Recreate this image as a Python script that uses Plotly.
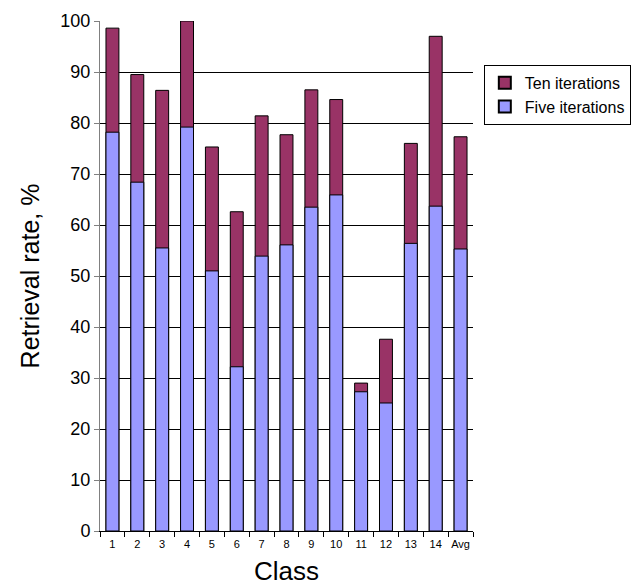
import plotly.graph_objects as go

classes = ["1", "2", "3", "4", "5", "6", "7", "8", "9", "10", "11", "12", "13", "14", "Avg"]
ten_iterations = [98.6, 89.5, 86.4, 100.0, 75.3, 62.6, 81.4, 77.7, 86.5, 84.6, 29.0, 37.6, 76.0, 97.0, 77.3]
five_iterations = [78.2, 68.4, 55.5, 79.2, 51.0, 32.2, 53.9, 56.1, 63.5, 65.9, 27.3, 25.1, 56.4, 63.7, 55.3]

FONT = "Liberation Sans, Arial, sans-serif"

fig = go.Figure()
fig.add_trace(go.Bar(
    x=classes, y=ten_iterations, name="Ten iterations",
    marker=dict(color="#993366", line=dict(color="black", width=1)),
    width=0.52,
))
fig.add_trace(go.Bar(
    x=classes, y=five_iterations, name="Five iterations",
    marker=dict(color="#9999FF", line=dict(color="black", width=1)),
    width=0.52,
))

fig.update_layout(
    width=636, height=587,
    barmode="overlay",
    paper_bgcolor="white", plot_bgcolor="white",
    margin=dict(l=100, r=163, t=21, b=56, autoexpand=False),
    font=dict(family=FONT, color="black"),
    legend=dict(
        x=1.029, y=0.914, xanchor="left", yanchor="top",
        bordercolor="black", borderwidth=1, bgcolor="white",
        font=dict(size=16, family=FONT),
        traceorder="normal",
        itemsizing="constant",
        tracegroupgap=2,
    ),
    showlegend=True,
)
fig.update_yaxes(
    range=[0, 100], dtick=10, automargin=False,
    showgrid=True, gridcolor="black", gridwidth=1,
    showline=True, linecolor="gray", linewidth=1,
    ticks="outside", ticklen=5, tickcolor="gray",
    tickfont=dict(size=18, family=FONT),
    title=dict(text="Retrieval rate, %", font=dict(size=25, family=FONT), standoff=13),
    zeroline=False,
)
fig.update_xaxes(
    type="category", automargin=False, tickangle=0,
    showline=True, linecolor="black", linewidth=1,
    ticks="outside", ticklen=5, tickcolor="black", tickson="boundaries",
    ticklabelstandoff=3,
    tickfont=dict(size=11, family=FONT),
    title=dict(text="Class", font=dict(size=26, family=FONT), standoff=12),
    showgrid=False,
)

fig.write_html(
    "out.html",
    config={"displayModeBar": False},
    post_script="document.body.style.margin='0';document.body.style.overflow='hidden';",
)
